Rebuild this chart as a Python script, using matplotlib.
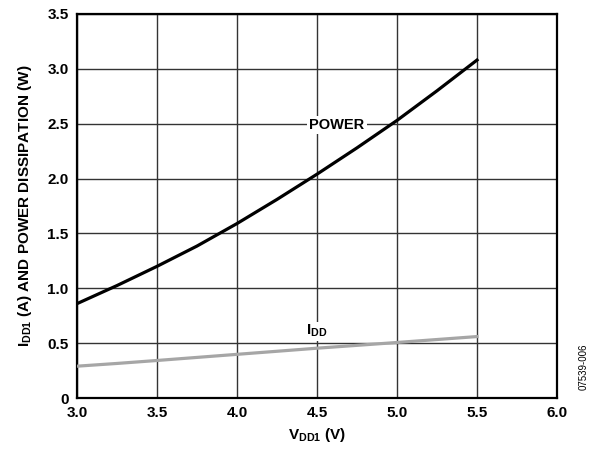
import matplotlib
matplotlib.use('Agg')
import matplotlib.pyplot as plt

plt.rcParams['font.family'] = 'Liberation Sans'
plt.rcParams['font.weight'] = 'bold'
plt.rcParams['mathtext.fontset'] = 'custom'
plt.rcParams['mathtext.rm'] = 'Liberation Sans:bold'
plt.rcParams['mathtext.bf'] = 'Liberation Sans:bold'
plt.rcParams['mathtext.default'] = 'bf'

# supply voltage (V)
vdd = [3.0, 3.25, 3.5, 3.75, 4.0, 4.25, 4.5, 4.75, 5.0, 5.25, 5.5]
# power dissipation (W)
power = [0.86, 1.025, 1.20, 1.385, 1.59, 1.81, 2.04, 2.28, 2.53, 2.80, 3.08]
# supply current (A)
idd = [0.29, 0.315, 0.342, 0.37, 0.398, 0.426, 0.454, 0.48, 0.506, 0.533, 0.56]

xticks = [3.0, 3.5, 4.0, 4.5, 5.0, 5.5, 6.0]
yticks = [0, 0.5, 1.0, 1.5, 2.0, 2.5, 3.0, 3.5]
ytick_labels = ['0', '0.5', '1.0', '1.5', '2.0', '2.5', '3.0', '3.5']

fig = plt.figure(figsize=(5.97, 4.51), dpi=100)
ax = fig.add_axes([0.129, 0.1175, 0.804, 0.8515])

ax.plot(vdd, power, color='black', lw=2.3, zorder=3)
ax.plot(vdd, idd, color='#a6a6a6', lw=2.3, zorder=3)

ax.set_xlim(3.0, 6.0)
ax.set_ylim(0, 3.5)
ax.set_xticks(xticks)
ax.set_xticklabels(['%.1f' % x for x in xticks], fontweight='bold', fontsize=11)
ax.set_yticks(yticks)
ax.set_yticklabels(ytick_labels, fontweight='bold', fontsize=11)
ax.tick_params(length=0, pad=6)
ax.grid(True, color='#333333', lw=1.0)
ax.set_axisbelow(True)
for s in ax.spines.values():
    s.set_linewidth(1.6)
    s.set_color('black')

ax.text(4.625, 2.49, 'POWER', ha='center', va='center', fontsize=10.5, fontweight='bold',
        bbox=dict(facecolor='white', edgecolor='none', pad=1.5), zorder=2)
ax.text(4.5, 0.61, r'I$_{DD}$', ha='center', va='center', fontsize=11, fontweight='bold',
        bbox=dict(facecolor='white', edgecolor='none', pad=1.0), zorder=2)

ax.set_xlabel(r'V$_{DD1}$ (V)', fontsize=11, fontweight='bold', labelpad=4)
ax.set_ylabel(r'I$_{DD1}$ (A) AND POWER DISSIPATION (W)', fontsize=11, fontweight='bold', labelpad=10)

fig.text(0.978, 0.135, '07539-006', rotation=90, fontsize=7, fontweight='normal',
         ha='center', va='bottom')

fig.savefig('out.png', dpi=100)
